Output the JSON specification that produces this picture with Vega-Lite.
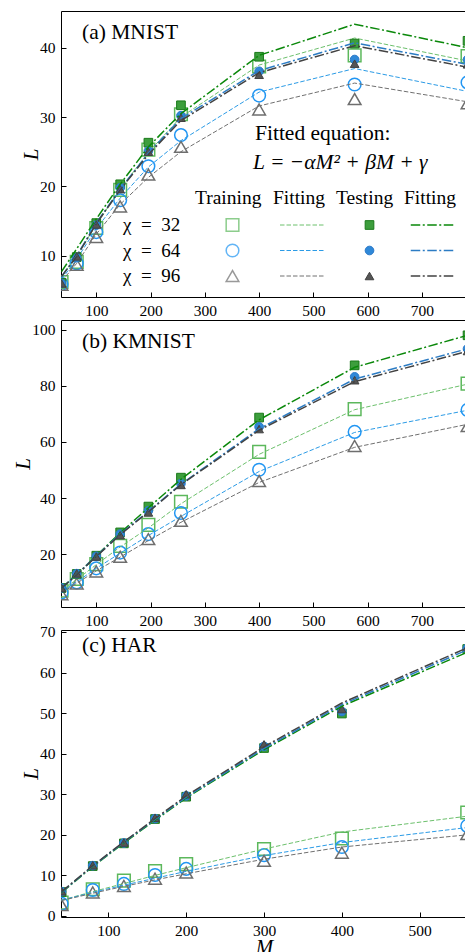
{
  "$schema": "https://vega.github.io/schema/vega-lite/v6.json",
  "background": "white",
  "padding": {"left": 11, "top": 10, "right": 0, "bottom": 0},
  "spacing": 23,
  "bounds": "flush",
  "config": {
    "font": "Liberation Serif",
    "view": {"stroke": "black", "strokeWidth": 1},
    "axis": {"labelFont": "Liberation Serif", "labelFontSize": 15.5, "labelColor": "black", "tickColor": "black", "tickWidth": 1, "domain": false, "grid": false, "tickSize": -5, "labelPadding": 11, "titleFont": "Liberation Serif", "titleFontSize": 21, "titleFontStyle": "italic", "titleFontWeight": "normal", "titleColor": "black", "labelFlush": false},
    "legend": {"labelFont": "Liberation Serif", "labelFontSize": 19, "titleFont": "Liberation Serif", "titleFontSize": 19.5, "titleFontWeight": "normal", "labelColor": "black", "titleColor": "black", "padding": 0, "rowPadding": 5.5, "titlePadding": 7.5, "labelLimit": 0},
    "title": {"font": "Liberation Serif", "fontSize": 21.5, "fontWeight": "normal", "color": "black"}
  },
  "resolve": {"scale": {"x": "independent", "y": "independent", "color": "independent", "shape": "independent", "fill": "independent", "stroke": "independent", "opacity": "independent"}},
  "datasets": {
    "a": [
      {"M": 36, "chi": "32", "tr": 6.2, "trf": 7.0, "te": 6.1, "tef": 7.7},
      {"M": 64, "chi": "32", "tr": 9.1, "trf": 9.9, "te": 9.8, "tef": 11.0},
      {"M": 100, "chi": "32", "tr": 14.0, "trf": 14.5, "te": 14.7, "tef": 15.3},
      {"M": 144, "chi": "32", "tr": 19.5, "trf": 19.6, "te": 20.3, "tef": 20.3},
      {"M": 196, "chi": "32", "tr": 25.3, "trf": 24.9, "te": 26.3, "tef": 25.7},
      {"M": 256, "chi": "32", "tr": 30.4, "trf": 30.0, "te": 31.7, "tef": 30.5},
      {"M": 400, "chi": "32", "tr": 37.3, "trf": 37.5, "te": 38.7, "tef": 38.9},
      {"M": 576, "chi": "32", "tr": 38.9, "trf": 41.4, "te": 40.6, "tef": 43.4},
      {"M": 784, "chi": "32", "tr": 38.8, "trf": 38.1, "te": 41.0, "tef": 40.0},
      {"M": 36, "chi": "64", "tr": 5.9, "trf": 6.6, "te": 6.0, "tef": 7.0},
      {"M": 64, "chi": "64", "tr": 8.9, "trf": 9.5, "te": 9.7, "tef": 10.0},
      {"M": 100, "chi": "64", "tr": 13.4, "trf": 13.9, "te": 14.4, "tef": 14.7},
      {"M": 144, "chi": "64", "tr": 18.0, "trf": 18.3, "te": 19.8, "tef": 19.6},
      {"M": 196, "chi": "64", "tr": 22.9, "trf": 22.8, "te": 25.1, "tef": 24.8},
      {"M": 256, "chi": "64", "tr": 27.4, "trf": 26.6, "te": 30.2, "tef": 29.8},
      {"M": 400, "chi": "64", "tr": 33.1, "trf": 33.6, "te": 36.6, "tef": 36.7},
      {"M": 576, "chi": "64", "tr": 34.7, "trf": 37.0, "te": 38.3, "tef": 40.7},
      {"M": 784, "chi": "64", "tr": 35.0, "trf": 33.7, "te": 38.3, "tef": 37.6},
      {"M": 36, "chi": "96", "tr": 5.8, "trf": 6.3, "te": 6.0, "tef": 7.0},
      {"M": 64, "chi": "96", "tr": 8.7, "trf": 8.9, "te": 9.9, "tef": 9.9},
      {"M": 100, "chi": "96", "tr": 12.7, "trf": 13.1, "te": 14.5, "tef": 14.6},
      {"M": 144, "chi": "96", "tr": 17.1, "trf": 17.4, "te": 19.6, "tef": 19.5},
      {"M": 196, "chi": "96", "tr": 21.7, "trf": 21.3, "te": 25.0, "tef": 24.6},
      {"M": 256, "chi": "96", "tr": 25.7, "trf": 25.0, "te": 29.9, "tef": 29.5},
      {"M": 400, "chi": "96", "tr": 31.1, "trf": 31.6, "te": 36.1, "tef": 36.4},
      {"M": 576, "chi": "96", "tr": 32.6, "trf": 34.9, "te": 37.7, "tef": 40.3},
      {"M": 784, "chi": "96", "tr": 32.0, "trf": 32.2, "te": 37.6, "tef": 37.2}
    ],
    "b": [
      {"M": 36, "chi": "32", "tr": 7.0, "trf": 7.0, "te": 8.0, "tef": 8.0},
      {"M": 64, "chi": "32", "tr": 11.2, "trf": 11.0, "te": 13.0, "tef": 12.8},
      {"M": 100, "chi": "32", "tr": 16.5, "trf": 16.3, "te": 19.5, "tef": 19.5},
      {"M": 144, "chi": "32", "tr": 23.0, "trf": 22.6, "te": 27.8, "tef": 27.6},
      {"M": 196, "chi": "32", "tr": 30.5, "trf": 29.4, "te": 37.0, "tef": 36.6},
      {"M": 256, "chi": "32", "tr": 38.7, "trf": 38.0, "te": 47.3, "tef": 46.7},
      {"M": 400, "chi": "32", "tr": 56.5, "trf": 55.6, "te": 68.7, "tef": 67.9},
      {"M": 576, "chi": "32", "tr": 71.7, "trf": 71.5, "te": 87.3, "tef": 86.6},
      {"M": 784, "chi": "32", "tr": 80.8, "trf": 80.6, "te": 98.0, "tef": 98.0},
      {"M": 36, "chi": "64", "tr": 6.4, "trf": 6.6, "te": 8.0, "tef": 8.0},
      {"M": 64, "chi": "64", "tr": 10.0, "trf": 10.2, "te": 13.1, "tef": 12.8},
      {"M": 100, "chi": "64", "tr": 15.0, "trf": 15.0, "te": 19.3, "tef": 19.3},
      {"M": 144, "chi": "64", "tr": 20.6, "trf": 20.4, "te": 27.2, "tef": 27.2},
      {"M": 196, "chi": "64", "tr": 27.2, "trf": 26.7, "te": 35.5, "tef": 35.3},
      {"M": 256, "chi": "64", "tr": 34.7, "trf": 33.5, "te": 45.2, "tef": 45.0},
      {"M": 400, "chi": "64", "tr": 50.1, "trf": 49.5, "te": 65.4, "tef": 64.7},
      {"M": 576, "chi": "64", "tr": 63.6, "trf": 63.4, "te": 83.2, "tef": 82.4},
      {"M": 784, "chi": "64", "tr": 71.4, "trf": 71.3, "te": 93.2, "tef": 93.2},
      {"M": 36, "chi": "96", "tr": 5.8, "trf": 6.2, "te": 8.0, "tef": 8.0},
      {"M": 64, "chi": "96", "tr": 9.6, "trf": 9.7, "te": 13.2, "tef": 12.7},
      {"M": 100, "chi": "96", "tr": 13.9, "trf": 14.1, "te": 19.2, "tef": 19.2},
      {"M": 144, "chi": "96", "tr": 19.1, "trf": 19.0, "te": 26.8, "tef": 27.0},
      {"M": 196, "chi": "96", "tr": 25.4, "trf": 24.9, "te": 34.9, "tef": 35.1},
      {"M": 256, "chi": "96", "tr": 31.9, "trf": 31.4, "te": 44.7, "tef": 44.8},
      {"M": 400, "chi": "96", "tr": 46.1, "trf": 45.6, "te": 64.6, "tef": 64.2},
      {"M": 576, "chi": "96", "tr": 58.6, "trf": 58.1, "te": 82.0, "tef": 81.5},
      {"M": 784, "chi": "96", "tr": 65.7, "trf": 66.3, "te": 92.4, "tef": 92.3}
    ],
    "c": [
      {"M": 40, "chi": "32", "tr": 3.3, "trf": 3.9, "te": 5.9, "tef": 5.8},
      {"M": 80, "chi": "32", "tr": 6.6, "trf": 6.0, "te": 12.3, "tef": 12.2},
      {"M": 120, "chi": "32", "tr": 8.7, "trf": 8.0, "te": 17.9, "tef": 18.0},
      {"M": 160, "chi": "32", "tr": 11.1, "trf": 10.0, "te": 23.9, "tef": 23.6},
      {"M": 200, "chi": "32", "tr": 12.8, "trf": 11.9, "te": 29.4, "tef": 29.1},
      {"M": 300, "chi": "32", "tr": 16.5, "trf": 16.5, "te": 41.4, "tef": 41.0},
      {"M": 400, "chi": "32", "tr": 19.1, "trf": 20.7, "te": 49.9, "tef": 51.7},
      {"M": 561, "chi": "32", "tr": 25.5, "trf": 24.6, "te": 65.8, "tef": 65.0},
      {"M": 40, "chi": "64", "tr": 3.0, "trf": 3.9, "te": 6.0, "tef": 5.9},
      {"M": 80, "chi": "64", "tr": 6.4, "trf": 5.8, "te": 12.4, "tef": 12.3},
      {"M": 120, "chi": "64", "tr": 7.9, "trf": 7.6, "te": 18.0, "tef": 18.2},
      {"M": 160, "chi": "64", "tr": 10.1, "trf": 9.3, "te": 24.0, "tef": 23.8},
      {"M": 200, "chi": "64", "tr": 11.6, "trf": 11.0, "te": 29.6, "tef": 29.3},
      {"M": 300, "chi": "64", "tr": 15.0, "trf": 14.9, "te": 41.8, "tef": 41.3},
      {"M": 400, "chi": "64", "tr": 17.0, "trf": 18.1, "te": 50.4, "tef": 52.1},
      {"M": 561, "chi": "64", "tr": 22.2, "trf": 21.8, "te": 66.0, "tef": 65.6},
      {"M": 40, "chi": "96", "tr": 2.7, "trf": 3.8, "te": 6.1, "tef": 6.0},
      {"M": 80, "chi": "96", "tr": 5.8, "trf": 5.6, "te": 12.5, "tef": 12.4},
      {"M": 120, "chi": "96", "tr": 7.4, "trf": 7.3, "te": 18.1, "tef": 18.3},
      {"M": 160, "chi": "96", "tr": 9.2, "trf": 8.9, "te": 24.2, "tef": 24.0},
      {"M": 200, "chi": "96", "tr": 10.7, "trf": 10.4, "te": 30.0, "tef": 29.6},
      {"M": 300, "chi": "96", "tr": 13.6, "trf": 14.0, "te": 42.3, "tef": 41.7},
      {"M": 400, "chi": "96", "tr": 15.6, "trf": 17.0, "te": 51.0, "tef": 52.5},
      {"M": 561, "chi": "96", "tr": 20.2, "trf": 20.0, "te": 66.2, "tef": 66.1}
    ]
  },
  "vconcat": [
    {
      "width": 406, "height": 286,
      "title": {"text": "(a) MNIST", "anchor": "start", "frame": "group", "offset": -32, "dx": 21},
      "resolve": {"scale": {"color": "independent", "shape": "independent", "fill": "independent", "stroke": "independent", "opacity": "independent"}},
      "layer": [
        {
          "data": {"name": "a"},
          "mark": {"type": "point", "filled": false, "size": 160, "strokeWidth": 1.5, "clip": true},
          "encoding": {
            "x": {"field": "M", "type": "quantitative", "scale": {"domain": [35, 783], "nice": false, "zero": false}, "axis": {"values": [100, 200, 300, 400, 500, 600, 700], "title": null}},
            "y": {"field": "tr", "type": "quantitative", "scale": {"domain": [4.04, 45.3], "nice": false, "zero": false}, "axis": {"values": [10, 20, 30, 40], "title": "L", "titlePadding": -2, "minExtent": 22, "maxExtent": 22}},
            "color": {"field": "chi", "type": "nominal", "scale": {"range": ["#5cb85c", "#2196f3", "#6e6e6e"]}, "legend": {"title": "Training", "orient": "none", "legendX": 134, "legendY": 177.5, "symbolOffset": 28, "labelOpacity": 0, "symbolSize": 160, "symbolStrokeWidth": 1.5}},
            "shape": {"field": "chi", "type": "nominal", "scale": {"range": ["square", "circle", "triangle-up"]}, "legend": {"title": "Training", "orient": "none", "legendX": 134, "legendY": 177.5, "symbolOffset": 28, "labelOpacity": 0, "symbolSize": 160, "symbolStrokeWidth": 1.5}},
            "opacity": {"field": "chi", "type": "ordinal", "scale": {"type": "ordinal", "domain": ["32", "64", "96"], "range": [1, 1, 1]}, "legend": {"title": null, "orient": "none", "legendX": 43, "legendY": 204.5, "symbolOpacity": 0, "symbolSize": 1, "symbolFillColor": "transparent", "symbolStrokeColor": "transparent", "labelOffset": 0, "labelExpr": "'χ\u2002=\u2002' + datum.label"}}
          }
        },
        {
          "data": {"name": "a"},
          "mark": {"type": "line", "strokeDash": [4.5, 2], "strokeWidth": 1, "clip": true},
          "encoding": {
            "x": {"field": "M", "type": "quantitative", "scale": {"domain": [35, 783], "nice": false, "zero": false}},
            "y": {"field": "trf", "type": "quantitative", "scale": {"domain": [4.04, 45.3], "nice": false, "zero": false}},
            "color": {"field": "chi", "type": "nominal", "scale": {"range": ["#6cc06c", "#2b9be6", "#707070"]}, "legend": {"title": "Fitting", "orient": "none", "legendX": 212, "legendY": 177.5, "symbolOffset": 19.5, "labelOpacity": 0, "symbolType": "M-4.4,0L4.4,0", "symbolSize": 100, "symbolStrokeWidth": 1, "symbolDash": [4.5, 2]}}
          }
        },
        {
          "data": {"name": "a"},
          "mark": {"type": "point", "filled": true, "size": 75, "strokeWidth": 1, "opacity": 1, "clip": true},
          "encoding": {
            "x": {"field": "M", "type": "quantitative", "scale": {"domain": [35, 783], "nice": false, "zero": false}},
            "y": {"field": "te", "type": "quantitative", "scale": {"domain": [4.04, 45.3], "nice": false, "zero": false}},
            "fill": {"field": "chi", "type": "nominal", "scale": {"range": ["#3d9e3d", "#2f88d8", "#555555"]}, "legend": {"title": "Testing", "orient": "none", "legendX": 275, "legendY": 177.5, "symbolOffset": 24, "labelOpacity": 0, "symbolSize": 75, "symbolStrokeWidth": 1}},
            "stroke": {"field": "chi", "type": "nominal", "scale": {"range": ["#1a7a1a", "#2a78c8", "#404040"]}, "legend": {"title": "Testing", "orient": "none", "legendX": 275, "legendY": 177.5, "symbolOffset": 24, "labelOpacity": 0, "symbolSize": 75, "symbolStrokeWidth": 1}},
            "shape": {"field": "chi", "type": "nominal", "scale": {"range": ["square", "circle", "triangle-up"]}, "legend": {"title": "Testing", "orient": "none", "legendX": 275, "legendY": 177.5, "symbolOffset": 24, "labelOpacity": 0, "symbolSize": 75, "symbolStrokeWidth": 1}}
          }
        },
        {
          "data": {"name": "a"},
          "mark": {"type": "line", "strokeDash": [9.5, 2.5, 2, 2.5], "strokeWidth": 1.5, "clip": true},
          "encoding": {
            "x": {"field": "M", "type": "quantitative", "scale": {"domain": [35, 783], "nice": false, "zero": false}},
            "y": {"field": "tef", "type": "quantitative", "scale": {"domain": [4.04, 45.3], "nice": false, "zero": false}},
            "color": {"field": "chi", "type": "nominal", "scale": {"range": ["#0a880a", "#2c7cc4", "#424242"]}, "legend": {"title": "Fitting", "orient": "none", "legendX": 343, "legendY": 177.5, "symbolOffset": 18.75, "labelOpacity": 0, "symbolType": "M-4.3,0L4.3,0", "symbolSize": 100, "symbolStrokeWidth": 1.5, "symbolDash": [9.5, 2.5, 2, 2.5]}}
          }
        },
        {
          "data": {"values": [{"t": "Fitted equation:"}]},
          "mark": {"type": "text", "align": "left", "baseline": "middle", "font": "Liberation Serif", "fontSize": 21.5, "color": "black"},
          "encoding": {
            "x": {"datum": 392.4, "type": "quantitative"},
            "y": {"datum": 27.55, "type": "quantitative"},
            "text": {"field": "t"}
          }
        },
        {
          "data": {"values": [{"t": "L = −αM² + βM + γ"}]},
          "mark": {"type": "text", "align": "left", "baseline": "middle", "font": "Liberation Serif", "fontSize": 21.5, "fontStyle": "italic", "color": "black"},
          "encoding": {
            "x": {"datum": 388.7, "type": "quantitative"},
            "y": {"datum": 23.36, "type": "quantitative"},
            "text": {"field": "t"}
          }
        }
      ]
    },
    {
      "width": 406, "height": 287,
      "title": {"text": "(b) KMNIST", "anchor": "start", "frame": "group", "offset": -32, "dx": 21},
      "resolve": {"scale": {"color": "independent", "shape": "independent", "fill": "independent", "stroke": "independent"}},
      "layer": [
        {
          "data": {"name": "b"},
          "mark": {"type": "point", "filled": false, "size": 160, "strokeWidth": 1.5, "opacity": 1, "clip": true},
          "encoding": {
            "x": {"field": "M", "type": "quantitative", "scale": {"domain": [35, 783], "nice": false, "zero": false}, "axis": {"values": [100, 200, 300, 400, 500, 600, 700], "title": null}},
            "y": {"field": "tr", "type": "quantitative", "scale": {"domain": [1.23, 103.45], "nice": false, "zero": false}, "axis": {"values": [20, 40, 60, 80, 100], "title": "L", "titlePadding": 6, "minExtent": 22, "maxExtent": 22}},
            "color": {"field": "chi", "type": "nominal", "scale": {"range": ["#5cb85c", "#2196f3", "#6e6e6e"]}, "legend": null},
            "shape": {"field": "chi", "type": "nominal", "scale": {"range": ["square", "circle", "triangle-up"]}, "legend": null}
          }
        },
        {
          "data": {"name": "b"},
          "mark": {"type": "line", "strokeDash": [4.5, 2], "strokeWidth": 1, "clip": true},
          "encoding": {
            "x": {"field": "M", "type": "quantitative", "scale": {"domain": [35, 783], "nice": false, "zero": false}},
            "y": {"field": "trf", "type": "quantitative", "scale": {"domain": [1.23, 103.45], "nice": false, "zero": false}},
            "color": {"field": "chi", "type": "nominal", "scale": {"range": ["#6cc06c", "#2b9be6", "#707070"]}, "legend": null}
          }
        },
        {
          "data": {"name": "b"},
          "mark": {"type": "point", "filled": true, "size": 75, "strokeWidth": 1, "opacity": 1, "clip": true},
          "encoding": {
            "x": {"field": "M", "type": "quantitative", "scale": {"domain": [35, 783], "nice": false, "zero": false}},
            "y": {"field": "te", "type": "quantitative", "scale": {"domain": [1.23, 103.45], "nice": false, "zero": false}},
            "fill": {"field": "chi", "type": "nominal", "scale": {"range": ["#3d9e3d", "#2f88d8", "#555555"]}, "legend": null},
            "stroke": {"field": "chi", "type": "nominal", "scale": {"range": ["#1a7a1a", "#2a78c8", "#404040"]}, "legend": null},
            "shape": {"field": "chi", "type": "nominal", "scale": {"range": ["square", "circle", "triangle-up"]}, "legend": null}
          }
        },
        {
          "data": {"name": "b"},
          "mark": {"type": "line", "strokeDash": [9.5, 2.5, 2, 2.5], "strokeWidth": 1.5, "clip": true},
          "encoding": {
            "x": {"field": "M", "type": "quantitative", "scale": {"domain": [35, 783], "nice": false, "zero": false}},
            "y": {"field": "tef", "type": "quantitative", "scale": {"domain": [1.23, 103.45], "nice": false, "zero": false}},
            "color": {"field": "chi", "type": "nominal", "scale": {"range": ["#0a880a", "#2c7cc4", "#424242"]}, "legend": null}
          }
        }
      ]
    },
    {
      "width": 406, "height": 287,
      "title": {"text": "(c) HAR", "anchor": "start", "frame": "group", "offset": -32, "dx": 21},
      "resolve": {"scale": {"color": "independent", "shape": "independent", "fill": "independent", "stroke": "independent"}},
      "layer": [
        {
          "data": {"name": "c"},
          "mark": {"type": "point", "filled": false, "size": 160, "strokeWidth": 1.5, "opacity": 1, "clip": true},
          "encoding": {
            "x": {"field": "M", "type": "quantitative", "scale": {"domain": [39.2, 560.7], "nice": false, "zero": false}, "axis": {"values": [100, 200, 300, 400, 500], "title": "M", "titlePadding": -2}},
            "y": {"field": "tr", "type": "quantitative", "scale": {"domain": [-0.25, 70.49], "nice": false, "zero": false}, "axis": {"values": [0, 10, 20, 30, 40, 50, 60, 70], "title": "L", "titlePadding": -2, "minExtent": 22, "maxExtent": 22}},
            "color": {"field": "chi", "type": "nominal", "scale": {"range": ["#5cb85c", "#2196f3", "#6e6e6e"]}, "legend": null},
            "shape": {"field": "chi", "type": "nominal", "scale": {"range": ["square", "circle", "triangle-up"]}, "legend": null}
          }
        },
        {
          "data": {"name": "c"},
          "mark": {"type": "line", "strokeDash": [4.5, 2], "strokeWidth": 1, "clip": true},
          "encoding": {
            "x": {"field": "M", "type": "quantitative", "scale": {"domain": [39.2, 560.7], "nice": false, "zero": false}},
            "y": {"field": "trf", "type": "quantitative", "scale": {"domain": [-0.25, 70.49], "nice": false, "zero": false}},
            "color": {"field": "chi", "type": "nominal", "scale": {"range": ["#6cc06c", "#2b9be6", "#707070"]}, "legend": null}
          }
        },
        {
          "data": {"name": "c"},
          "mark": {"type": "point", "filled": true, "size": 75, "strokeWidth": 1, "opacity": 1, "clip": true},
          "encoding": {
            "x": {"field": "M", "type": "quantitative", "scale": {"domain": [39.2, 560.7], "nice": false, "zero": false}},
            "y": {"field": "te", "type": "quantitative", "scale": {"domain": [-0.25, 70.49], "nice": false, "zero": false}},
            "fill": {"field": "chi", "type": "nominal", "scale": {"range": ["#3d9e3d", "#2f88d8", "#555555"]}, "legend": null},
            "stroke": {"field": "chi", "type": "nominal", "scale": {"range": ["#1a7a1a", "#2a78c8", "#404040"]}, "legend": null},
            "shape": {"field": "chi", "type": "nominal", "scale": {"range": ["square", "circle", "triangle-up"]}, "legend": null}
          }
        },
        {
          "data": {"name": "c"},
          "mark": {"type": "line", "strokeDash": [9.5, 2.5, 2, 2.5], "strokeWidth": 1.5, "clip": true},
          "encoding": {
            "x": {"field": "M", "type": "quantitative", "scale": {"domain": [39.2, 560.7], "nice": false, "zero": false}},
            "y": {"field": "tef", "type": "quantitative", "scale": {"domain": [-0.25, 70.49], "nice": false, "zero": false}},
            "color": {"field": "chi", "type": "nominal", "scale": {"range": ["#0a880a", "#2c7cc4", "#424242"]}, "legend": null}
          }
        }
      ]
    }
  ]
}
